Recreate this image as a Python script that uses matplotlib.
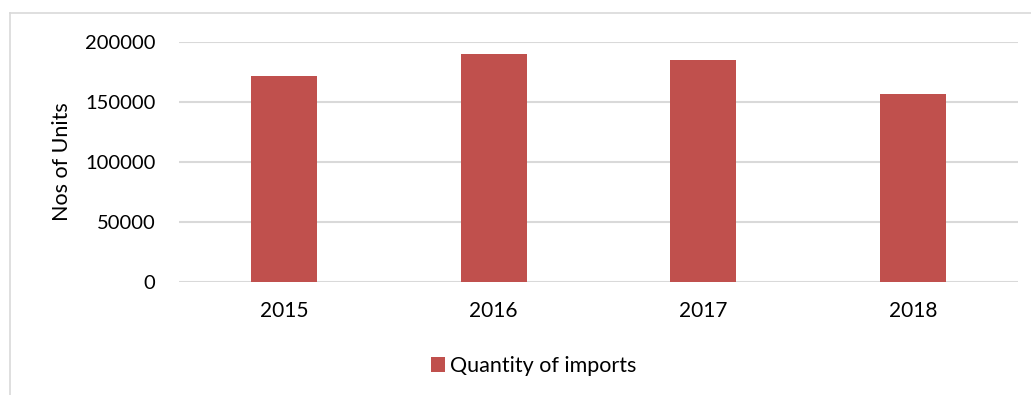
import matplotlib.pyplot as plt
from matplotlib.lines import Line2D

# data
years = ["2015", "2016", "2017", "2018"]
imports = [171500, 190000, 185000, 156000]

bar_color = "#c0504d"
grid_color = "#d9d9d9"

plt.rcParams["font.family"] = ["Lato", "DejaVu Sans"]

fig = plt.figure(figsize=(10.31, 3.95), dpi=100)
ax = fig.add_axes([179 / 1031, 1 - 281.7 / 395, (1018 - 179) / 1031, (281.7 - 41.7) / 395])

x = range(len(years))
ax.bar(x, imports, width=0.315, color=bar_color, label="Quantity of imports", zorder=3)

ax.set_xlim(-0.5, len(years) - 0.5)
ax.set_ylim(0, 200000)
ax.set_yticks(range(0, 200001, 50000))
ax.set_xticks(list(x))
ax.set_xticklabels(years)
ax.tick_params(axis="both", length=0, colors="black")
ax.tick_params(axis="x", pad=14, labelsize=15)
ax.tick_params(axis="y", pad=17, labelsize=14.5)
ax.yaxis.grid(True, color=grid_color, linewidth=1.5, zorder=0)
for s in ax.spines.values():
    s.set_visible(False)
ax.set_ylabel("Nos of Units", fontsize=15.5)
ax.yaxis.set_label_coords(-107 / 839, 0.5)

# chart area border (left and top only are visible)
fig.add_artist(Line2D([10 / 1031, 10 / 1031], [0, 1 - 13 / 395], transform=fig.transFigure,
                      color=grid_color, linewidth=1.2))
fig.add_artist(Line2D([10 / 1031, 1], [1 - 13 / 395, 1 - 13 / 395], transform=fig.transFigure,
                      color=grid_color, linewidth=1.2))

fig.legend(loc="center", bbox_to_anchor=(534 / 1031, 1 - 366 / 395), frameon=False,
           fontsize=15.5, handlelength=0.65, handleheight=0.65, handletextpad=0.25)

fig.savefig("out.png", dpi=100)
